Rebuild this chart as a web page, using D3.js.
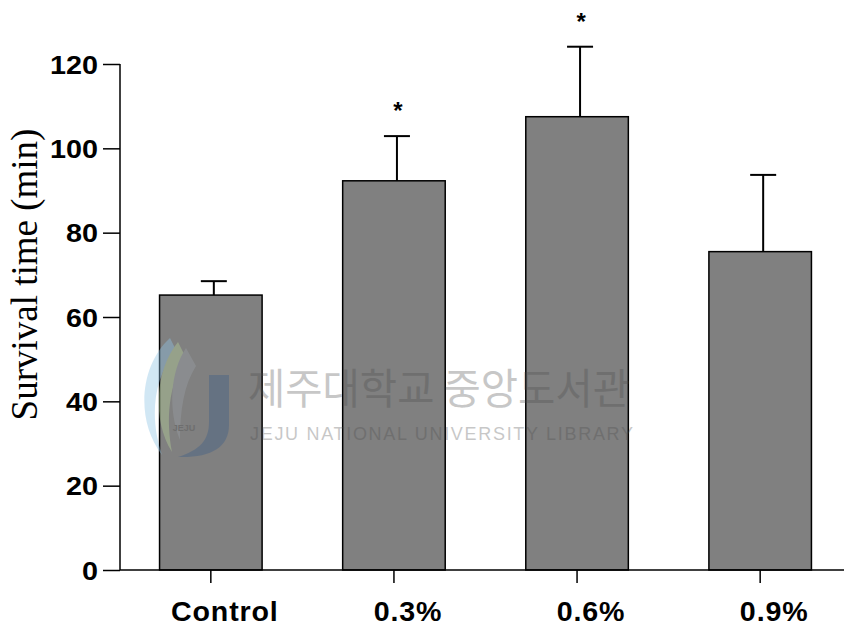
<!DOCTYPE html>
<html>
<head>
<meta charset="utf-8">
<script src="https://cdn.jsdelivr.net/npm/d3@7"></script>
<style>
  html, body { margin: 0; padding: 0; background: #fff; }
  svg { display: block; }
</style>
</head>
<body>
<svg id="chart" width="844" height="631"></svg>
<script>
// Survival time by treatment concentration (mean ± SD)
const categories = ["Control", "0.3%", "0.6%", "0.9%"];
const means = [65.2, 92.3, 107.5, 75.5];
const errors = [3.3, 10.6, 16.6, 18.2];
const significant = [false, true, true, false];
const yTicks = [0, 20, 40, 60, 80, 100, 120];
const yLabel = "Survival time (min)";

const svg = d3.select("#chart");
const W = 844, H = 631;
const axisX = 120, baseY = 570, topY = 64;

const y = d3.scaleLinear().domain([0, 120]).range([baseY, topY]);
const x = d3.scaleBand()
  .domain(categories)
  .range([68, 903])
  .paddingInner(0.44)
  .paddingOuter(0.5);

const ink = "#000";

// bars
svg.append("g").selectAll("rect")
  .data(categories)
  .join("rect")
  .attr("x", d => x(d))
  .attr("y", (d, i) => y(means[i]))
  .attr("width", x.bandwidth())
  .attr("height", (d, i) => y(0) - y(means[i]))
  .attr("fill", "#808080")
  .attr("stroke", ink)
  .attr("stroke-width", 1.5);

// error bars (upper half only)
const capW = 26;
const eb = svg.append("g").attr("stroke", ink).attr("stroke-width", 2);
categories.forEach((c, i) => {
  const cx = x(c) + x.bandwidth() / 2 + 3;
  eb.append("line")
    .attr("x1", cx).attr("x2", cx)
    .attr("y1", y(means[i])).attr("y2", y(means[i] + errors[i]));
  eb.append("line")
    .attr("x1", cx - capW / 2).attr("x2", cx + capW / 2)
    .attr("y1", y(means[i] + errors[i])).attr("y2", y(means[i] + errors[i]));
});

// significance markers
svg.append("g").selectAll("text")
  .data(categories.filter((c, i) => significant[i]))
  .join("text")
  .attr("x", d => x(d) + x.bandwidth() / 2 + 4)
  .attr("y", d => {
    const i = categories.indexOf(d);
    return y(means[i] + errors[i]) - 17;
  })
  .attr("text-anchor", "middle")
  .attr("font-family", "'Liberation Sans', Arial, sans-serif")
  .attr("font-weight", "bold")
  .attr("font-size", 24)
  .attr("fill", ink)
  .text("*");

// y axis
const ySx = 1.15;
const yAxis = svg.append("g")
  .attr("transform", `translate(${axisX},0)`)
  .call(d3.axisLeft(y).tickValues(yTicks).tickSize(17).tickPadding(5).tickFormat(d3.format("d")));
yAxis.select(".domain").remove();
yAxis.selectAll(".tick line").attr("stroke", ink).attr("stroke-width", 1.5);
yAxis.selectAll(".tick text")
  .attr("x", -22 / ySx)
  .attr("dy", "0.36em")
  .attr("transform", `scale(${ySx},1)`)
  .attr("font-family", "'Liberation Sans', Arial, sans-serif")
  .attr("font-weight", "bold")
  .attr("font-size", 25)
  .attr("fill", ink);
svg.append("line")
  .attr("x1", axisX).attr("x2", axisX)
  .attr("y1", y(120)).attr("y2", y(0))
  .attr("stroke", ink).attr("stroke-width", 1.5);

// x axis
const xSx = 1.06;
const xAxis = svg.append("g")
  .attr("transform", `translate(0,${baseY})`)
  .call(d3.axisBottom(x).tickSize(13).tickPadding(19));
xAxis.select(".domain").remove();
xAxis.selectAll(".tick line").attr("stroke", ink).attr("stroke-width", 1.5);
xAxis.selectAll(".tick text")
  .attr("x", 14 / xSx)
  .attr("transform", `scale(${xSx},1)`)
  .attr("font-family", "'Liberation Sans', Arial, sans-serif")
  .attr("font-weight", "bold")
  .attr("font-size", 27)
  .attr("letter-spacing", 0.8)
  .attr("fill", ink);
svg.append("line")
  .attr("x1", axisX).attr("x2", W)
  .attr("y1", baseY).attr("y2", baseY)
  .attr("stroke", ink).attr("stroke-width", 1.5);

// y axis title
svg.append("text")
  .attr("transform", `translate(37,${(125 + 424) / 2}) rotate(-90)`)
  .attr("text-anchor", "middle")
  .attr("font-family", "'Liberation Serif', 'Times New Roman', serif")
  .attr("font-size", 37)
  .attr("fill", ink)
  .text(yLabel);

// library stamp
const stamp = svg.append("g").attr("pointer-events", "none");
const logo = stamp.append("g").attr("opacity", 0.4);
logo.append("path")
  .attr("d", "M170,338 C140,365 135,420 162,455 C150,420 152,380 176,350 Z")
  .attr("fill", "#8fc4e6");
logo.append("path")
  .attr("d", "M178,342 C155,370 152,420 172,452 C166,420 168,385 186,358 Z")
  .attr("fill", "#b7d39a");
logo.append("path")
  .attr("d", "M186,348 C170,372 168,410 180,440 C180,410 184,385 196,366 Z")
  .attr("fill", "#9aa0a6");
logo.append("path")
  .attr("d", "M209,375 L229,375 L229,425 C229,448 210,458 178,457 C200,450 209,440 209,422 Z")
  .attr("fill", "#3f5f86");
logo.append("text")
  .attr("x", 184).attr("y", 431)
  .attr("text-anchor", "middle")
  .attr("font-family", "'Liberation Sans', Arial, sans-serif")
  .attr("font-weight", "bold")
  .attr("font-size", 9)
  .attr("fill", "#555")
  .text("JEJU");

stamp.append("text")
  .attr("x", 248).attr("y", 404)
  .attr("textLength", 382)
  .attr("lengthAdjust", "spacingAndGlyphs")
  .attr("font-family", "'Noto Sans CJK KR', sans-serif")
  .attr("font-size", 42)
  .attr("fill", "#4a4a4a")
  .attr("opacity", 0.3)
  .text("제주대학교 중앙도서관");
stamp.append("text")
  .attr("x", 250).attr("y", 440)
  .attr("textLength", 383)
  .attr("lengthAdjust", "spacing")
  .attr("font-family", "'Liberation Sans', Arial, sans-serif")
  .attr("font-size", 18)
  .attr("fill", "#4a4a4a")
  .attr("opacity", 0.3)
  .text("JEJU NATIONAL UNIVERSITY  LIBRARY");
</script>
</body>
</html>
